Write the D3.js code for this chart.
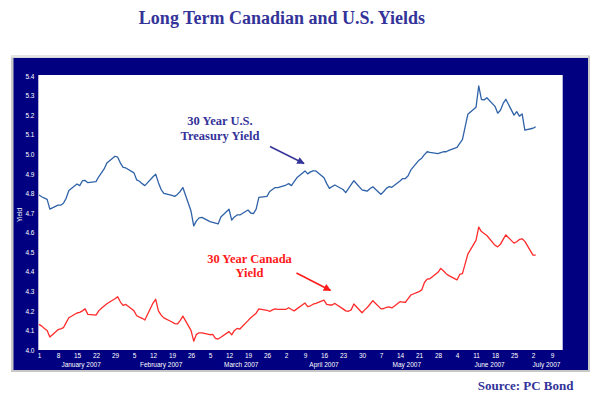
<!DOCTYPE html>
<html>
<head>
<meta charset="utf-8">
<script src="https://cdn.jsdelivr.net/npm/d3@7"></script>
<style>
  body { margin: 0; background: #fff; }
  .title { font-family: 'Liberation Serif', 'Times New Roman', serif; font-weight: bold; fill: #333399; }
  .tick-text { font-family: 'Liberation Sans', Arial, sans-serif; font-size: 6.5px; fill: #fff; }
</style>
</head>
<body>
<div id="chart"></div>
<script>
// business-day yields, one row per week (Mon..Fri), starting Mon Jan 1 2007
const usTreasury = [
  4.792, 4.783, 4.776, 4.770, 4.720,
  4.740, 4.740, 4.750, 4.775, 4.815,
  4.848, 4.840, 4.865, 4.866, 4.855,
  4.860, 4.885, 4.905, 4.925, 4.955,
  4.990, 4.985, 4.955, 4.933, 4.930,
  4.905, 4.869, 4.862, 4.850, 4.840,
  4.885, 4.898, 4.855, 4.820, 4.800,
  4.790, 4.785, 4.795, 4.810, 4.830,
  4.710, 4.634, 4.660, 4.675, 4.678,
  4.656, 4.652, 4.648, 4.644, 4.680,
  4.719, 4.664, 4.680, 4.690, 4.690,
  4.715, 4.700, 4.697, 4.720, 4.780,
  4.785, 4.810, 4.820, 4.830, 4.830,
  4.843, 4.850, 4.840, 4.860, 4.880,
  4.915, 4.900, 4.910, 4.915, 4.915,
  4.880, 4.850, 4.826, 4.835, 4.843,
  4.820, 4.804, 4.825, 4.845, 4.865,
  4.818, 4.815, 4.812, 4.825, 4.834,
  4.795, 4.810, 4.826, 4.835, 4.831,
  4.864, 4.876, 4.876, 4.890, 4.920,
  4.970, 4.980, 4.998, 5.013, 5.010,
  5.003, 5.008, 5.013, 5.013, 5.020,
  5.035, 5.056, 5.075, 5.140, 5.204,
  5.240, 5.349, 5.280, 5.278, 5.289,
  5.245, 5.210, 5.225, 5.260, 5.281,
  5.200, 5.218, 5.195, 5.206, 5.124,
  5.133, 5.141
];

const canada = [
  4.131, 4.122, 4.110, 4.100, 4.066,
  4.104, 4.108, 4.114, 4.140, 4.165,
  4.189, 4.192, 4.200, 4.210, 4.182,
  4.178, 4.200, 4.213, 4.225, 4.236,
  4.262, 4.272, 4.245, 4.228, 4.233,
  4.200, 4.175, 4.168, 4.162, 4.153,
  4.240, 4.259, 4.200, 4.178, 4.164,
  4.143, 4.135, 4.133, 4.150, 4.173,
  4.100, 4.045, 4.080, 4.088, 4.088,
  4.078, 4.080, 4.060, 4.056, 4.065,
  4.094, 4.077, 4.100, 4.110, 4.107,
  4.150, 4.165, 4.176, 4.188, 4.210,
  4.203, 4.197, 4.205, 4.210, 4.208,
  4.208, 4.216, 4.207, 4.200, 4.210,
  4.240, 4.222, 4.226, 4.234, 4.238,
  4.255, 4.233, 4.230, 4.230, 4.238,
  4.210, 4.200, 4.198, 4.205, 4.235,
  4.190, 4.205, 4.218, 4.235, 4.252,
  4.210, 4.212, 4.218, 4.220, 4.215,
  4.247, 4.245, 4.244, 4.262, 4.281,
  4.298, 4.307, 4.345, 4.362, 4.364,
  4.397, 4.417, 4.405, 4.390, 4.380,
  4.358, 4.386, 4.390, 4.440, 4.490,
  4.560, 4.628, 4.605, 4.595, 4.585,
  4.535, 4.527, 4.540, 4.565, 4.588,
  4.546, 4.553, 4.565, 4.568, 4.555,
  4.485, 4.485
];

const yTicks = [4.0, 4.1, 4.2, 4.3, 4.4, 4.5, 4.6, 4.7, 4.8, 4.9, 5.0, 5.1, 5.2, 5.3, 5.4];
const months = ['January 2007', 'February 2007', 'March 2007', 'April 2007', 'May 2007', 'June 2007', 'July 2007'];

const width = 608, height = 397;
const navy = '#000080';

let svg = d3.select('#chart').append('svg')
  .attr('width', width)
  .attr('height', height);

// title
svg.append('text')
  .attr('class', 'title')
  .attr('x', 282)
  .attr('y', 24)
  .attr('text-anchor', 'middle')
  .style('font-size', '18px')
  .text('Long Term Canadian and U.S. Yields');

// frame: grey bevel + navy panel
svg.append('rect')
  .attr('x', 11).attr('y', 55.5)
  .attr('width', 579).attr('height', 316.5)
  .attr('fill', '#c8c8c8');
svg.append('rect')
  .attr('x', 11).attr('y', 55.5)
  .attr('width', 577).attr('height', 2)
  .attr('fill', '#e6e6e6');
svg.append('rect')
  .attr('x', 13.5).attr('y', 58)
  .attr('width', 574.5).attr('height', 312)
  .attr('fill', navy);

// plot area
let plot = { left: 38.3, top: 75, right: 562.7, bottom: 350 };
svg.append('rect')
  .attr('x', plot.left).attr('y', plot.top)
  .attr('width', plot.right - plot.left)
  .attr('height', plot.bottom - plot.top)
  .attr('fill', '#fff');

// scales
let x = d3.scaleTime()
  .domain([new Date(2007, 0, 1), new Date(2007, 6, 9)])
  .range([39, 552]);
let y = d3.scaleLinear()
  .domain([4.0, 5.4])
  .range([350, 76]);

// weekday dates for the series
let days = d3.timeDay.range(new Date(2007, 0, 1), new Date(2007, 6, 10))
  .filter(d => d.getDay() !== 0 && d.getDay() !== 6);

// y axis labels
let yAxis = d3.axisLeft(y)
  .tickValues(yTicks)
  .tickFormat(d3.format('.1f'))
  .tickSize(0)
  .tickPadding(0);
let gy = svg.append('g')
  .attr('transform', 'translate(34.5,0)')
  .call(yAxis);
gy.select('.domain').remove();
gy.selectAll('text').attr('class', 'tick-text').attr('fill', null).attr('dy', '0.35em');

svg.append('text')
  .attr('class', 'tick-text')
  .attr('transform', 'translate(22,215) rotate(-90)')
  .attr('text-anchor', 'middle')
  .text('Yield');

// x axis: weekly Mondays
let xAxis = d3.axisBottom(x)
  .ticks(d3.timeMonday.every(1))
  .tickFormat(d3.timeFormat('%-d'))
  .tickSize(0)
  .tickPadding(0);
let gx = svg.append('g')
  .attr('transform', 'translate(0,353)')
  .call(xAxis);
gx.select('.domain').remove();
gx.selectAll('text').attr('class', 'tick-text').attr('fill', null).attr('dy', '0.71em');

// month labels centred on the visible part of each month
let visStart = x.invert(plot.left), visEnd = x.invert(plot.right);
svg.append('g').selectAll('text')
  .data(months)
  .join('text')
  .attr('class', 'tick-text')
  .attr('text-anchor', 'middle')
  .attr('y', 366.5)
  .attr('x', (m, i) => {
    let a = d3.max([new Date(2007, i, 1), visStart]);
    let b = d3.min([new Date(2007, i + 1, 1), visEnd]);
    return (x(a) + x(b)) / 2;
  })
  .text(m => m);

// lines
let line = d3.line()
  .x((d, i) => x(days[i]))
  .y(d => y(d));

svg.append('path')
  .datum(usTreasury)
  .attr('fill', 'none')
  .attr('stroke', '#2f62a8')
  .attr('stroke-width', 1.3)
  .attr('stroke-linejoin', 'round')
  .attr('d', line);

svg.append('path')
  .datum(canada)
  .attr('fill', 'none')
  .attr('stroke', '#ff2b2b')
  .attr('stroke-width', 1.3)
  .attr('stroke-linejoin', 'round')
  .attr('d', line);

// arrow markers
let defs = svg.append('defs');
[['arrow-blue', '#333399'], ['arrow-red', '#ff1a1a']].forEach(([id, c]) => {
  defs.append('marker')
    .attr('id', id)
    .attr('viewBox', '0 0 10 10')
    .attr('refX', 9).attr('refY', 5)
    .attr('markerWidth', 5).attr('markerHeight', 5)
    .attr('orient', 'auto')
    .append('path')
    .attr('d', 'M0,0 L10,5 L0,10 Z')
    .attr('fill', c);
});

// annotations
let usLabel = svg.append('text')
  .attr('class', 'title')
  .attr('text-anchor', 'middle')
  .style('font-size', '12.5px');
usLabel.append('tspan').attr('x', 220).attr('y', 125).text('30 Year U.S.');
usLabel.append('tspan').attr('x', 220).attr('y', 139.5).text('Treasury Yield');

svg.append('line')
  .attr('x1', 270).attr('y1', 146.5)
  .attr('x2', 304).attr('y2', 163.5)
  .attr('stroke', '#333399')
  .attr('stroke-width', 1.5)
  .attr('marker-end', 'url(#arrow-blue)');

let caLabel = svg.append('text')
  .attr('class', 'title')
  .attr('text-anchor', 'middle')
  .style('fill', '#ff1a1a')
  .style('font-size', '12.5px');
caLabel.append('tspan').attr('x', 249.5).attr('y', 262.5).text('30 Year Canada');
caLabel.append('tspan').attr('x', 249.5).attr('y', 276.5).text('Yield');

svg.append('line')
  .attr('x1', 296.5).attr('y1', 273)
  .attr('x2', 330.5).attr('y2', 290.5)
  .attr('stroke', '#ff1a1a')
  .attr('stroke-width', 1.5)
  .attr('marker-end', 'url(#arrow-red)');

// source
svg.append('text')
  .attr('class', 'title')
  .attr('x', 573.5)
  .attr('y', 390)
  .attr('text-anchor', 'end')
  .style('font-size', '13px')
  .text('Source: PC Bond');
</script>
</body>
</html>
